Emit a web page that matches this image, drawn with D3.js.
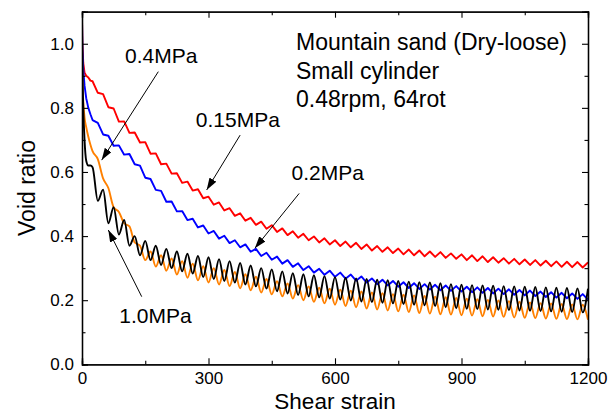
<!DOCTYPE html>
<html><head><meta charset="utf-8">
<script src="https://cdn.jsdelivr.net/npm/d3@7"></script>
<style>
html,body{margin:0;padding:0;background:#fff;}
text{font-family:"Liberation Sans",Arial,sans-serif;fill:#000;}
</style></head>
<body><svg id="c" width="614" height="414"></svg>
<script>
// ---------- data ----------
const strainHead = [0, 1, 3, 6, 10, 15, 20];
const strainBody = d3.range(25, 1200.01, 12.5); // 95 samples, half an oscillation apart
const xMajorTicks = [0, 300, 600, 900, 1200];
const xMinorTicks = [150, 450, 750, 1050];
const yMajorTicks = [0.0, 0.2, 0.4, 0.6, 0.8, 1.0];
const yMinorTicks = [0.1, 0.3, 0.5, 0.7, 0.9];

const red015Head = [1.08, 1.0, 0.94, 0.91, 0.90, 0.895, 0.885];
const red015Body = [
 .883,.847,.843,.802,.798,.757,.758,.722,
 .723,.692,.693,.657,.658,.624,.626,.595,
 .596,.566,.570,.542,.546,.518,.523,.498,
 .505,.480,.487,.463,.471,.448,.457,.435,
 .445,.423,.434,.413,.424,.403,.415,.395,
 .407,.387,.399,.380,.393,.374,.387,.369,
 .383,.365,.379,.360,.374,.355,.369,.351,
 .365,.347,.361,.343,.358,.340,.355,.337,
 .352,.335,.350,.332,.346,.329,.343,.325,
 .340,.322,.337,.319,.334,.317,.331,.314,
 .329,.312,.327,.310,.325,.308,.323,.306,
 .321,.304,.320,.303,.319,.302,.318];

const blue02Head = [1.08, 0.98, 0.92, 0.87, 0.83, 0.80, 0.78];
const blue02Body = [
 .762,.753,.717,.713,.682,.683,.654,.656,
 .624,.620,.582,.578,.544,.541,.507,.508,
 .477,.478,.450,.454,.427,.433,.408,.416,
 .392,.401,.378,.387,.365,.374,.351,.360,
 .338,.348,.326,.336,.314,.325,.304,.315,
 .294,.306,.286,.298,.279,.292,.273,.286,
 .267,.280,.261,.274,.255,.268,.250,.264,
 .246,.260,.242,.256,.238,.253,.235,.250,
 .233,.248,.231,.246,.229,.244,.227,.242,
 .225,.240,.223,.238,.221,.236,.219,.234,
 .217,.232,.215,.230,.213,.227,.210,.225,
 .208,.223,.206,.221,.204,.219,.202];

const orange04Head = [0.98, 0.88, 0.82, 0.77, 0.74, 0.71, 0.685];
const orange04Body = [
 .665,.640,.580,.550,.490,.475,.440,.430,
 .380,.370,.325,.352,.305,.340,.292,.330,
 .280,.322,.270,.314,.262,.306,.255,.300,
 .249,.294,.244,.288,.237,.281,.231,.273,
 .224,.266,.218,.259,.212,.252,.205,.247,
 .200,.243,.195,.239,.190,.236,.186,.233,
 .182,.230,.178,.227,.174,.224,.171,.222,
 .168,.219,.165,.217,.163,.215,.160,.213,
 .158,.211,.156,.209,.155,.207,.153,.205,
 .152,.203,.150,.201,.149,.199,.148,.197,
 .146,.195,.145,.193,.144,.191,.143,.190,
 .142,.188,.141,.187,.140,.186,.139];

const black10Head = [1.05, 0.92, 0.80, 0.70, 0.635, 0.62, 0.62];
const black10Body = [
 .615,.510,.545,.440,.490,.405,.450,.370,
 .400,.340,.385,.325,.370,.310,.360,.300,
 .352,.290,.345,.283,.338,.272,.334,.266,
 .328,.260,.322,.255,.316,.249,.308,.243,
 .300,.236,.296,.228,.290,.221,.284,.216,
 .281,.212,.278,.209,.275,.205,.272,.202,
 .270,.199,.268,.196,.266,.194,.264,.192,
 .262,.190,.260,.188,.258,.186,.256,.184,
 .255,.182,.253,.178,.250,.175,.248,.173,
 .247,.172,.246,.171,.245,.170,.244,.169,
 .243,.168,.242,.167,.241,.166,.240,.165,
 .239,.164,.238,.163,.237,.162,.236];

const seriesNames = ["0.15MPa", "0.2MPa", "0.4MPa", "1.0MPa"];
const seriesColors = ["#ff0000", "#0000ff", "#ff8000", "#000000"];

// annotations: label, label anchor (data), arrow start (data), arrow tip (data)
const annoLabels = ["0.4MPa", "0.15MPa", "0.2MPa", "1.0MPa"];
const annoText = [[102, 0.939], [270, 0.741], [497, 0.576], [88.5, 0.128]];
const annoFrom = [[181, 0.913], [375, 0.715], [515, 0.533], [141.6, 0.211]];
const annoTip  = [[46.7, 0.637], [295.7, 0.544], [410, 0.362], [62.4, 0.419]];
const infoLines = ["Mountain sand (Dry-loose)", "Small cylinder", "0.48rpm, 64rot"];

// ---------- layout ----------
const m = {l: 82, r: 588, t: 11.7, b: 364.3};
const x = d3.scaleLinear().domain([0, 1200]).range([m.l, m.r]);
const y = d3.scaleLinear().domain([0, 1.1]).range([m.b, m.t]);
const svg = d3.select("#c");

function build(head, body) {
  const s = strainHead.concat(strainBody);
  const v = head.concat(body);
  return s.map((d, i) => [d, v[i]]).filter(d => d[1] !== undefined);
}
const series = [
  {data: build(red015Head, red015Body), curve: d3.curveLinear},
  {data: build(blue02Head, blue02Body), curve: d3.curveLinear},
  {data: build(orange04Head, orange04Body), curve: d3.curveMonotoneX},
  {data: build(black10Head, black10Body), curve: d3.curveMonotoneX}
];

const defs = svg.append("defs");
defs.append("clipPath").attr("id", "clip")
  .append("rect").attr("x", m.l).attr("y", m.t).attr("width", m.r - m.l).attr("height", m.b - m.t);

const g = svg.append("g").attr("clip-path", "url(#clip)");
series.forEach((s, i) => {
  g.append("path")
    .attr("d", d3.line().x(d => x(d[0])).y(d => y(d[1])).curve(s.curve)(s.data))
    .attr("fill", "none").attr("stroke", seriesColors[i]).attr("stroke-width", 1.9)
    .attr("stroke-linejoin", "round");
});

// ---------- axes ----------
function styleAxis(sel) {
  sel.selectAll(".domain").attr("stroke", "#000").attr("stroke-width", 1.3);
  sel.selectAll(".tick line").attr("stroke", "#000").attr("stroke-width", 1.1);
  sel.selectAll("text").style("font-family", "'Liberation Sans', Arial, sans-serif").style("font-size", "17px").attr("fill", "#000");
}
const fmtX = d3.format("d"), fmtY = d3.format(".1f");
svg.append("g").attr("transform", `translate(0,${m.b})`)
  .call(d3.axisBottom(x).tickValues(xMajorTicks).tickSize(-6).tickPadding(8).tickFormat(fmtX)).call(styleAxis);
svg.append("g").attr("transform", `translate(0,${m.b})`)
  .call(d3.axisBottom(x).tickValues(xMinorTicks).tickSize(-3.5).tickFormat("")).call(styleAxis);
svg.append("g").attr("transform", `translate(0,${m.t})`)
  .call(d3.axisTop(x).tickValues(xMajorTicks).tickSize(-6).tickFormat("")).call(styleAxis);
svg.append("g").attr("transform", `translate(0,${m.t})`)
  .call(d3.axisTop(x).tickValues(xMinorTicks).tickSize(-3.5).tickFormat("")).call(styleAxis);
svg.append("g").attr("transform", `translate(${m.l},0)`)
  .call(d3.axisLeft(y).tickValues(yMajorTicks).tickSize(-6).tickPadding(8).tickFormat(fmtY)).call(styleAxis);
svg.append("g").attr("transform", `translate(${m.l},0)`)
  .call(d3.axisLeft(y).tickValues(yMinorTicks).tickSize(-3.5).tickFormat("")).call(styleAxis);
svg.append("g").attr("transform", `translate(${m.r},0)`)
  .call(d3.axisRight(y).tickValues(yMajorTicks).tickSize(-6).tickFormat("")).call(styleAxis);
svg.append("g").attr("transform", `translate(${m.r},0)`)
  .call(d3.axisRight(y).tickValues(yMinorTicks).tickSize(-3.5).tickFormat("")).call(styleAxis);

svg.append("text").attr("x", (m.l + m.r) / 2).attr("y", 409).attr("text-anchor", "middle")
  .style("font-size", "22.5px").text("Shear strain");
svg.append("text").attr("transform", `translate(35,${(m.t + m.b) / 2}) rotate(-90)`).attr("text-anchor", "middle")
  .style("font-size", "23px").text("Void ratio");

// ---------- annotations ----------
defs.append("marker").attr("id", "ah").attr("viewBox", "0 0 12 8")
  .attr("refX", 12).attr("refY", 4).attr("markerWidth", 12).attr("markerHeight", 8)
  .attr("markerUnits", "userSpaceOnUse").attr("orient", "auto")
  .append("path").attr("d", "M0,0 L12,4 L0,8 Z").attr("fill", "#000");
annoLabels.forEach((t, i) => {
  svg.append("text").attr("x", x(annoText[i][0])).attr("y", y(annoText[i][1]))
    .style("font-size", "21px").text(t);
  svg.append("line").attr("x1", x(annoFrom[i][0])).attr("y1", y(annoFrom[i][1]))
    .attr("x2", x(annoTip[i][0])).attr("y2", y(annoTip[i][1]))
    .attr("stroke", "#000").attr("stroke-width", 1).attr("marker-end", "url(#ah)");
});
infoLines.forEach((t, i) => {
  svg.append("text").attr("x", x(507.5)).attr("y", 50 + i * 28.5)
    .style("font-size", "23px").text(t);
});
</script>
</body></html>
